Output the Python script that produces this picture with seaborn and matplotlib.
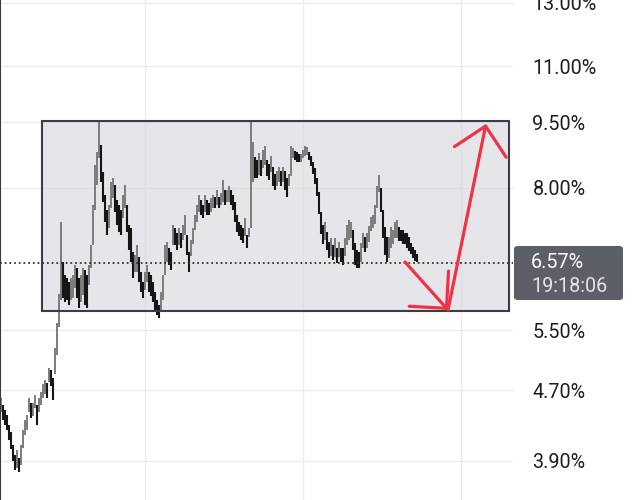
import numpy as np
import pandas as pd
import seaborn as sns
import matplotlib.pyplot as plt
import matplotlib.ticker as ticker
from matplotlib.patches import Rectangle, FancyBboxPatch

# candle highs / lows (%), one per bar, oldest first
hi = [4.60, 4.52, 4.46, 4.40, 4.29, 4.21, 4.07, 3.96, 4.01, 3.93, 4.07, 4.23, 4.34, 4.40, 4.60,
      4.54, 4.54, 4.64, 4.52, 4.60, 4.68, 4.77, 4.83, 4.79, 4.98, 4.95, 4.85, 5.25, 5.60, 6.05,
      7.31, 6.58, 6.36, 6.31, 6.25, 6.31, 6.36, 6.53, 6.47, 6.31, 6.36, 6.47, 6.44, 6.36, 6.53,
      6.88, 7.65, 8.49, 8.78, 9.54, 8.95, 8.34, 7.85, 7.54, 7.65, 8.12, 8.20, 8.06, 7.75, 7.65,
      7.54, 7.85, 8.06, 7.65, 7.26, 7.20, 6.75, 6.70, 6.88, 6.66, 6.41, 6.25, 6.41, 6.53, 6.41,
      6.36, 6.25, 6.08, 5.96, 5.88, 6.08, 6.36,
      6.88, 6.93, 6.83, 6.75, 7.26, 7.20, 7.10, 7.20, 7.10, 7.26, 7.45, 7.07, 6.75, 6.97, 7.20,
      7.45, 7.65, 7.85, 7.75, 7.65, 7.85, 7.75, 7.69, 7.79, 7.85, 7.81, 7.95, 7.81, 7.89, 8.16,
      7.95, 7.95, 8.03, 7.95, 7.85, 7.71, 7.45, 7.31, 7.26, 7.20, 7.39, 7.07, 7.20,
      9.54, 9.02, 8.67, 8.60, 8.76, 8.60, 8.83, 8.93, 8.60, 8.51, 8.69, 8.45, 8.29, 8.36, 8.45,
      8.36, 8.45, 8.36, 8.20, 8.29, 8.93, 8.88, 8.81, 8.78, 8.74, 8.74, 8.83, 8.93, 8.90, 8.78,
      8.69, 8.56, 8.42, 8.20, 7.91, 7.50, 7.26, 7.31, 7.12, 6.93, 7.01, 6.88, 7.01, 6.83, 6.93,
      6.83, 6.83, 7.01,
      7.26, 7.35, 7.31, 7.16, 6.92, 6.79, 6.75, 6.92, 7.10, 7.03, 7.10, 7.24, 7.41, 7.45, 7.65,
      8.03, 8.27, 7.99, 7.54, 7.22, 7.03, 7.03, 7.22, 7.16, 7.31, 7.35, 7.22, 7.16, 7.16, 7.10,
      7.10, 7.03, 6.92, 6.85, 6.79, 6.72]
lo = [4.44, 4.34, 4.29, 4.23, 4.12, 4.03, 3.90, 3.81, 3.83, 3.79, 3.86, 4.04, 4.18, 4.23, 4.44,
      4.37, 4.39, 4.48, 4.29, 4.44, 4.52, 4.60, 4.65, 4.60, 4.80, 4.75, 4.58, 4.90, 5.15, 5.55,
      5.95, 5.99, 5.93, 5.96, 5.88, 5.96, 5.99, 6.14, 5.99, 5.83, 5.93, 6.04, 5.88, 5.83, 6.20,
      6.47, 6.88, 7.54, 8.06, 8.65, 8.12, 7.71, 7.31, 7.07, 7.20, 7.58, 7.79, 7.50, 7.26, 7.12,
      7.07, 7.39, 7.58, 7.12, 6.79, 6.58, 6.31, 6.41, 6.41, 6.25, 6.08, 5.99, 6.11, 6.25, 6.08,
      6.02, 5.93, 5.77, 5.72, 5.68, 5.77, 5.96,
      6.36, 6.58, 6.53, 6.44, 6.88, 6.88, 6.79, 6.88, 6.83, 6.97, 7.07, 6.70, 6.41, 6.68, 6.90,
      7.16, 7.31, 7.50, 7.45, 7.39, 7.50, 7.45, 7.45, 7.50, 7.58, 7.58, 7.65, 7.58, 7.65, 7.71,
      7.65, 7.71, 7.71, 7.65, 7.54, 7.31, 7.12, 7.05, 6.97, 6.92, 7.05, 6.83, 7.03,
      7.20, 8.12, 8.20, 8.20, 8.27, 8.25, 8.42, 8.49, 8.25, 8.16, 8.34, 8.03, 7.95, 8.03, 8.12,
      8.03, 8.12, 7.95, 7.81, 8.03, 8.25, 8.65, 8.60, 8.56, 8.56, 8.56, 8.65, 8.69, 8.72, 8.60,
      8.47, 8.29, 8.08, 7.83, 7.46, 7.08, 6.90, 6.97, 6.79, 6.65, 6.68, 6.61, 6.66, 6.56, 6.66,
      6.58, 6.53, 6.68,
      6.88, 6.97, 7.01, 6.79, 6.53, 6.47, 6.47, 6.58, 6.83, 6.75, 6.83, 6.93, 7.14, 7.20, 7.28,
      7.58, 7.91, 7.50, 7.01, 6.70, 6.58, 6.65, 6.83, 6.90, 7.01, 7.01, 6.95, 6.95, 6.90, 6.90,
      6.83, 6.77, 6.72, 6.65, 6.60, 6.58]

yticks = [3.9, 4.7, 5.5, 8.0, 9.5, 11.0, 13.0]
ytick_labels = ["3.90%", "4.70%", "5.50%", "8.00%", "9.50%", "11.00%", "13.00%"]
time_ticks = [72, 151, 230]

last_price = 6.57
last_label = "6.57%"
timer_label = "19:18:06"

# drawn range box (bar index, %)
box_x = [20.5, 254]
box_y = [5.78, 9.53]
# hand drawn arrow path (bar index, %)
arrow_x = [202, 223.5, 242.5]
arrow_y = [6.58, 5.80, 9.46]

df = pd.DataFrame({"hi": hi, "lo": lo})
df["bar"] = np.arange(len(df))
mid = (df["hi"] + df["lo"]) / 2
df["up"] = mid.diff().fillna(1) >= 0

sns.set_style("white")
plt.rcParams["font.family"] = ["Roboto", "DejaVu Sans"]

fig = plt.figure(figsize=(6.32, 5), dpi=100)
ax = fig.add_axes([0, 0, 513 / 632, 1])

ax.set_yscale("log")
ax.set_ylim(3.52, 13.1)
ax.set_xlim(-0.5, 256)

ax.yaxis.set_major_locator(ticker.FixedLocator(yticks))
ax.yaxis.set_major_formatter(ticker.FixedFormatter(ytick_labels))
ax.yaxis.set_minor_locator(ticker.NullLocator())
ax.yaxis.set_minor_formatter(ticker.NullFormatter())
ax.yaxis.tick_right()
ax.set_xticks(time_ticks)
ax.set_xticklabels([])
ax.tick_params(axis="both", length=0)
ax.tick_params(axis="y", pad=14, labelsize=14.2, labelcolor="#1e1e1e")

ax.grid(True, color="#ececec", lw=1)
ax.set_axisbelow(True)
for s in ["top", "right", "bottom"]:
    ax.spines[s].set_visible(False)
ax.spines["left"].set_color("#3a3a3a")
ax.spines["left"].set_linewidth(1.5)

ax.add_patch(Rectangle((box_x[0], box_y[0]), box_x[1] - box_x[0], box_y[1] - box_y[0],
                       facecolor="#d6d6dc", alpha=0.6, edgecolor="none", zorder=1))
ax.add_patch(Rectangle((box_x[0], box_y[0]), box_x[1] - box_x[0], box_y[1] - box_y[0],
                       facecolor="none", edgecolor="#3c3d44", lw=1.5, zorder=4))

up = df[df["up"]]
dn = df[~df["up"]]
ax.vlines(up["bar"], up["lo"], up["hi"], color="#7c7c7c", lw=1.4, zorder=2)
ax.vlines(dn["bar"], dn["lo"], dn["hi"], color="#161616", lw=1.5, zorder=3)

ax.axhline(last_price, color="#333333", lw=1.3, ls=(0, (1, 1.6)), zorder=3)

red = "#ef3347"
for i in range(len(arrow_x) - 1):
    ax.annotate("", xy=(arrow_x[i + 1], arrow_y[i + 1]), xytext=(arrow_x[i], arrow_y[i]),
                arrowprops=dict(arrowstyle="->,head_length=1,head_width=1", color=red,
                                lw=2.3, shrinkA=0, shrinkB=0, mutation_scale=19,
                                capstyle="round", joinstyle="round"),
                zorder=5)

fig.add_artist(FancyBboxPatch((514 / 632, 200 / 500), 109 / 632, 54 / 500,
                              boxstyle="round,pad=0,rounding_size=0.006",
                              transform=fig.transFigure, facecolor="#5d5f68",
                              edgecolor="none"))
fig.text(531 / 632, 1 - 262 / 500, last_label, color="white", fontsize=14.2, va="center")
fig.text(531 / 632, 1 - 286 / 500, timer_label, color="#e4e4e6", fontsize=14.2, va="center")

fig.savefig("out.png", dpi=100)
